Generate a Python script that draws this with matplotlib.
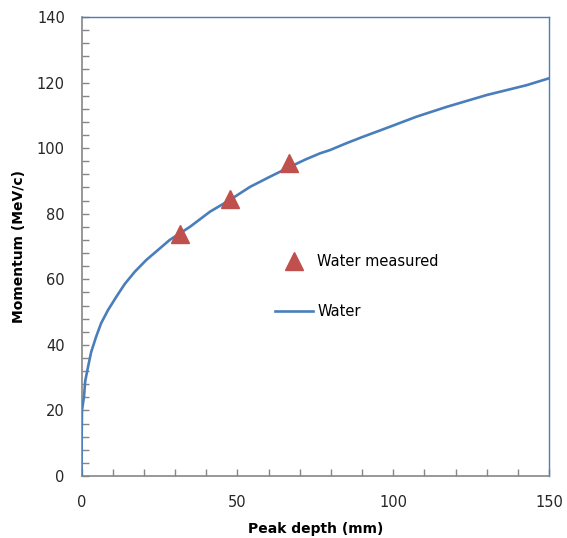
import matplotlib
matplotlib.use("Agg")
import matplotlib.pyplot as plt
from matplotlib.ticker import MultipleLocator

# ---- data ----
depth = [0, 0.05, 0.16, 0.8, 1.2, 2.1, 3.1, 4.7, 6.3, 8.5, 11.2, 13.9, 17.1,
         20.8, 24.5, 28.3, 34.8, 41.2, 47.6, 54.1, 60.5, 66.9, 72, 76.5, 79.7,
         85, 90.4, 95.8, 100, 107.5, 117.2, 130, 142.8, 150]
momentum = [0, 12, 20.1, 24.2, 29.0, 33.3, 37.8, 42.5, 46.6, 50.6, 54.7, 58.6,
            62.3, 65.9, 68.9, 72.0, 76.0, 80.6, 84.2, 88.2, 91.3, 94.3, 96.6,
            98.4, 99.4, 101.5, 103.5, 105.4, 106.9, 109.6, 112.6, 116.2, 119.2,
            121.3]

meas_depth = [31.6, 47.6, 66.7]
meas_momentum = [73.8, 84.4, 95.5]

x_ticks = [0, 50, 100, 150]
y_ticks = [0, 20, 40, 60, 80, 100, 120, 140]

blue = "#4A7EBB"
red = "#C0504D"
grey = "#868686"

plt.rcParams['font.family'] = ['DejaVu Sans']

fig = plt.figure(figsize=(5.67, 5.38), dpi=100)
ax = fig.add_axes([81.5 / 567, 62 / 538, (549 - 81.5) / 567, (476 - 17) / 538])

ax.plot(depth, momentum, color=blue, lw=1.9, label="Water", zorder=3,
        solid_joinstyle="round")
ax.plot(meas_depth, meas_momentum, linestyle="none", marker="^", ms=13,
        color=red, label="Water measured", zorder=4)

ax.set_xlim(0, 150)
ax.set_ylim(0, 140)
ax.set_xticks(x_ticks)
ax.set_yticks(y_ticks)
ax.xaxis.set_minor_locator(MultipleLocator(10))
ax.yaxis.set_minor_locator(MultipleLocator(4))
ax.tick_params(which="both", direction="in", length=5, width=1, color=grey,
               labelsize=10.5, labelcolor="#262626")
ax.tick_params(axis="x", pad=14)
ax.tick_params(axis="y", pad=12)

for s in ["left", "bottom"]:
    ax.spines[s].set_color(grey)
    ax.spines[s].set_linewidth(1.2)
for s in ["top", "right"]:
    ax.spines[s].set_color(blue)
    ax.spines[s].set_linewidth(1)

ax.set_xlabel("Peak depth (mm)", fontsize=10, fontweight="bold", labelpad=8)
ax.set_ylabel("Momentum (MeV/c)", fontsize=10, fontweight="bold", labelpad=8)

h, l = ax.get_legend_handles_labels()
ax.legend(h[::-1], l[::-1], loc="center left", frameon=False,
          bbox_to_anchor=(275 / 567, 1 - 287 / 538), bbox_transform=fig.transFigure,
          fontsize=10.5, labelspacing=2.4, handlelength=2.6, handletextpad=0.3,
          borderpad=0, borderaxespad=0)

fig.savefig("out.png", dpi=100)
